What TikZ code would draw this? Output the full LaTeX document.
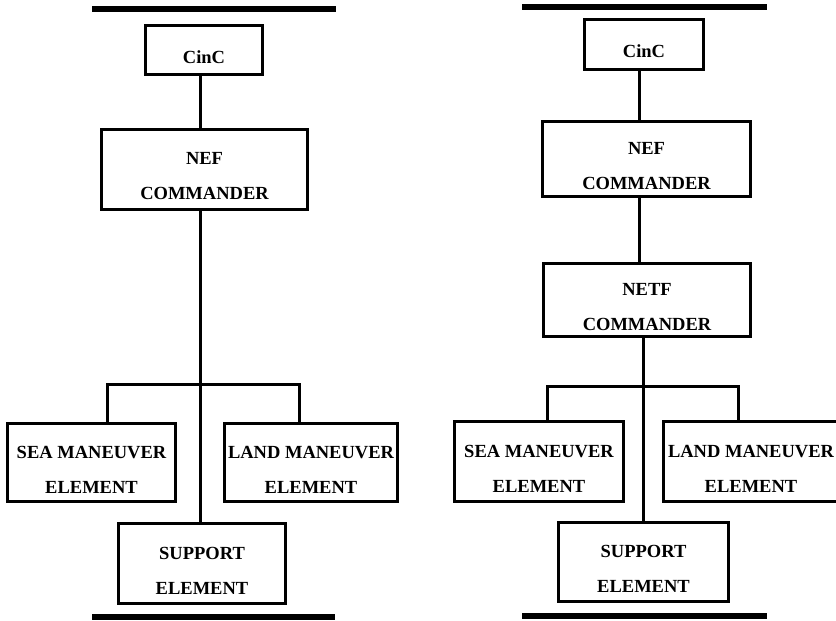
\documentclass[tikz,border=0pt]{standalone}
\usepackage{fontspec}
\setmainfont{Liberation Serif}
\def\lw{3.6pt}

\tikzset{
  unit/.style={draw, line width=\lw, inner sep=0pt},
  txt/.style={font=\bfseries\fontsize{18.5}{35}\selectfont, align=center, yshift=-7pt},
  bar/.style={line width=6pt},
  link/.style={line width=3pt}
}

\begin{document}
\begin{tikzpicture}[x=1pt, y=-1pt]
\clip (0,0) rectangle (836,621);

% left chart
\draw[bar] (92,9) -- (336,9); \draw[bar] (92,617) -- (335,617);
\node[unit, minimum width=117pt, minimum height=49pt, label={[txt]center:CinC}] (cincL) at (204,50) {};
\node[unit, minimum width=206pt, minimum height=80pt, label={[txt]center:NEF\\COMMANDER}] (nefL) at (204.5,169.5) {};
\node[unit, minimum width=168pt, minimum height=78pt, label={[txt]center:SEA MANEUVER\\ELEMENT}] (seaL) at (91.5,462.5) {};
\node[unit, minimum width=173pt, minimum height=78pt, label={[txt]center:LAND MANEUVER\\ELEMENT}] (landL) at (311,462.5) {};
\node[unit, minimum width=167pt, minimum height=80pt, label={[txt]center:SUPPORT\\ELEMENT}] (supL) at (202,563.5) {};
\coordinate (trL) at (200,0);
\coordinate (dropSL) at (107,384); \coordinate (dropLL) at (299,384);
\draw[link] (cincL.south -| trL) -- (nefL.north -| trL);
\draw[link] (nefL.south -| trL) -- (supL.north -| trL);
\draw[link] (seaL.north -| dropSL) -- (dropSL) -- (dropLL) -- (landL.north -| dropLL);

% right chart
\draw[bar] (522,7) -- (767,7); \draw[bar] (522,616) -- (767,616);
\node[unit, minimum width=119pt, minimum height=50pt, label={[txt]center:CinC}] (cincR) at (644,44.5) {};
\node[unit, minimum width=208pt, minimum height=75pt, label={[txt]center:NEF\\COMMANDER}] (nefR) at (646.5,159) {};
\node[unit, minimum width=207pt, minimum height=73pt, label={[txt]center:NETF\\COMMANDER}] (netfR) at (647,300) {};
\node[unit, minimum width=169pt, minimum height=80pt, label={[txt]center:SEA MANEUVER\\ELEMENT}] (seaR) at (539,461.5) {};
\node[unit, minimum width=175pt, minimum height=80pt, label={[txt]center:LAND MANEUVER\\ELEMENT}] (landR) at (751,461.5) {};
\node[unit, minimum width=170pt, minimum height=79pt, label={[txt]center:SUPPORT\\ELEMENT}] (supR) at (643.5,562) {};
\coordinate (upR) at (639,0); \coordinate (trR) at (643,0);
\coordinate (dropSR) at (547,386); \coordinate (dropLR) at (738,386);
\draw[link] (cincR.south -| upR) -- (nefR.north -| upR);
\draw[link] (nefR.south -| upR) -- (netfR.north -| upR);
\draw[link] (netfR.south -| trR) -- (supR.north -| trR);
\draw[link] (seaR.north -| dropSR) -- (dropSR) -- (dropLR) -- (landR.north -| dropLR);
\end{tikzpicture}
\end{document}
